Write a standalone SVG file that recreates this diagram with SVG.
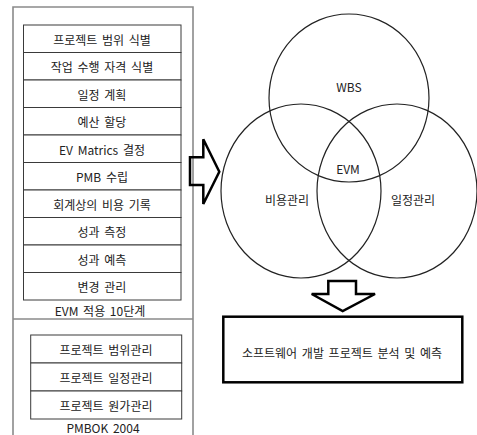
<svg xmlns="http://www.w3.org/2000/svg" width="477" height="435" viewBox="0 0 477 435">
<style>
text{font-family:"Noto Sans CJK KR","Noto Sans",sans-serif;font-size:12px;word-spacing:2px;fill:#222;text-anchor:middle;dominant-baseline:central}
.outer{fill:none;stroke:#8a8a8a;stroke-width:1.6}
.row{fill:#fff;stroke:#3a3a3a;stroke-width:1}
.circ{fill:none;stroke:#222;stroke-width:1.2}
.arrow{fill:none;stroke:#000;stroke-width:2.5;stroke-linejoin:miter}
.box{fill:#fff;stroke:#000;stroke-width:2.5}
</style>
<rect width="477" height="435" fill="#fff"/>
<g id="outer-frame">
<path class="outer" d="M13,440 V7 H193 V440 M13,319 H193"/>
</g>
<g id="evm-steps">
<rect class="row" x="23.5" y="25" width="157.5" height="27.5"/>
<rect class="row" x="23.5" y="52.5" width="157.5" height="27.5"/>
<rect class="row" x="23.5" y="80" width="157.5" height="27.5"/>
<rect class="row" x="23.5" y="107.5" width="157.5" height="27.5"/>
<rect class="row" x="23.5" y="135" width="157.5" height="27.5"/>
<rect class="row" x="23.5" y="162.5" width="157.5" height="27.5"/>
<rect class="row" x="23.5" y="190" width="157.5" height="27.5"/>
<rect class="row" x="23.5" y="217.5" width="157.5" height="27.5"/>
<rect class="row" x="23.5" y="245" width="157.5" height="27.5"/>
<rect class="row" x="23.5" y="272.5" width="157.5" height="27.5"/>
<text x="102" y="39">프로젝트 범위 식별</text>
<text x="102" y="66.5">작업 수행 자격 식별</text>
<text x="102" y="94">일정 계획</text>
<text x="102" y="121.5">예산 할당</text>
<text x="102" y="149">EV Matrics 결정</text>
<text x="102" y="176.5">PMB 수립</text>
<text x="102" y="204">회계상의 비용 기록</text>
<text x="102" y="231.5">성과 측정</text>
<text x="102" y="259">성과 예측</text>
<text x="102" y="286.5">변경 관리</text>
<text x="100" y="310">EVM 적용 10단계</text>
</g>
<g id="pmbok">
<rect class="row" x="30.7" y="335" width="151" height="28"/>
<rect class="row" x="30.7" y="363" width="151" height="28"/>
<rect class="row" x="30.7" y="391" width="151" height="28"/>
<text x="106" y="349">프로젝트 범위관리</text>
<text x="106" y="377">프로젝트 일정관리</text>
<text x="106" y="405">프로젝트 원가관리</text>
<text x="103" y="427">PMBOK 2004</text>
</g>
<g id="venn">
<ellipse class="circ" cx="349" cy="98" rx="80" ry="84"/>
<ellipse class="circ" cx="301" cy="191" rx="80" ry="87"/>
<ellipse class="circ" cx="397" cy="191" rx="80" ry="87"/>
<text x="349" y="86">WBS</text>
<text x="348" y="168">EVM</text>
<text x="287" y="199">비용관리</text>
<text x="413" y="199">일정관리</text>
</g>
<g id="connectors">
<path class="arrow" d="M190,157.3 H203.3 V139.3 L219.3,171.7 L203.3,204 V185 H190 Z"/>
<path class="arrow" d="M328.3,281 H356 V294 H375 L342.7,311 L311.7,294 H328.3 Z"/>
</g>
<g id="result">
<rect class="box" x="223.3" y="316.7" width="239" height="65.6"/>
<text x="342" y="352">소프트웨어 개발 프로젝트 분석 및 예측</text>
</g>
</svg>
